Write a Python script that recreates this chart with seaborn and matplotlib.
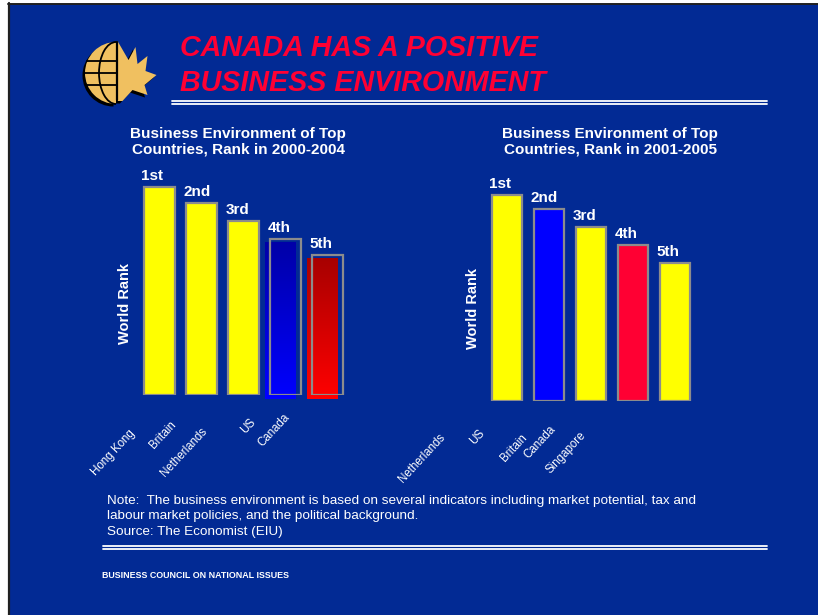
import numpy as np
import matplotlib
matplotlib.use("Agg")
import matplotlib.pyplot as plt
import matplotlib.transforms as mtransforms
from matplotlib.patches import Rectangle, Polygon, Wedge, Arc
from matplotlib.lines import Line2D
from matplotlib.colors import LinearSegmentedColormap
import seaborn as sns

# ---------------- data ----------------
main_title = "CANADA HAS A POSITIVE\nBUSINESS ENVIRONMENT"

left_title = "Business Environment of Top\nCountries, Rank in 2000-2004"
left_countries = ["Hong Kong", "Britain", "Netherlands", "US", "Canada"]
left_scores = [208, 192, 174, 156, 140]
left_ranks = ["1st", "2nd", "3rd", "4th", "5th"]
left_colors = ["#FFFF00", "#FFFF00", "#FFFF00", "#0000FF", "#FF0000"]
left_gradients = [None, None, None, ("#0000A8", "#0000FF"), ("#A80000", "#FF0000")]

right_title = "Business Environment of Top\nCountries, Rank in 2001-2005"
right_countries = ["Netherlands", "US", "Britain", "Canada", "Singapore"]
right_scores = [206, 192, 174, 156, 138]
right_ranks = ["1st", "2nd", "3rd", "4th", "5th"]
right_colors = ["#FFFF00", "#0000FF", "#FFFF00", "#FF0033", "#FFFF00"]

y_label = "World Rank"
note_text = ("Note:  The business environment is based on several indicators including market potential, tax and\n"
             "labour market policies, and the political background.\n"
             "Source: The Economist (EIU)")
footer_text = "BUSINESS COUNCIL ON NATIONAL ISSUES"

# ---------------- layout (pixels) ----------------
W, H = 818, 615
BG = "#022A94"
SANS = ["Liberation Sans", "DejaVu Sans"]

sns.set_theme(style="white")
plt.rcParams["font.family"] = SANS

fig = plt.figure(figsize=(W / 100, H / 100), dpi=100)
fig.patch.set_facecolor("white")
P = mtransforms.Affine2D().scale(1 / W, -1 / H).translate(0, 1) + fig.transFigure

# background slide
fig.patches.append(Rectangle((9, 4), W - 9, H - 4, transform=P, facecolor=BG,
                             edgecolor="none", zorder=-10))
fig.lines.append(Line2D([9, 9], [3, H], transform=P, color="#202020", lw=1.6, zorder=-9))
fig.lines.append(Line2D([8, W], [3.5, 3.5], transform=P, color="#202020", lw=1.4, zorder=-9))

# double rules
for y in (100.8, 104.2):
    fig.lines.append(Line2D([172, 767], [y, y], transform=P, color="white", lw=1.3))
for y in (545.8, 549.2):
    fig.lines.append(Line2D([103, 767], [y, y], transform=P, color="white", lw=1.3))

# ---------------- logo ----------------
GOLD = "#F0C060"
cx, cy, r = 116, 73, 31
leaf = [(116, 41), (127, 60), (134, 47), (136, 64), (146, 56), (144, 71), (155, 75),
        (143, 85), (146, 95), (131, 90), (121, 101), (116, 101)]
for dx, col, z in ((-2.5, "black", 1), (0, GOLD, 2)):
    sh = mtransforms.Affine2D().translate(dx, -dx) + P
    fig.patches.append(Wedge((cx, cy), r, 90, 270, transform=sh, facecolor=col,
                             edgecolor="none", zorder=z))
    fig.patches.append(Polygon([(x + 1.5, y) for x, y in leaf], closed=True,
                               transform=sh, facecolor=col, edgecolor="none", zorder=z))
for yy in (cy - 12, cy, cy + 12):
    half = np.sqrt(r ** 2 - (yy - cy) ** 2)
    fig.lines.append(Line2D([cx - half, cx], [yy, yy], transform=P, color="black",
                            lw=1.3, zorder=3))
fig.patches.append(Arc((cx, cy), 34, 2 * r, theta1=90, theta2=270, transform=P,
                       color="black", lw=1.3, zorder=3))
fig.lines.append(Line2D([cx + 0.5, cx + 0.5], [cy - r, cy + r - 4], transform=P,
                        color="black", lw=1.6, zorder=3))

# ---------------- titles & texts ----------------
fig.text(180, 65.5, main_title, transform=P, ha="left", va="center",
         color="#FF0033", fontsize=20.6, fontweight="bold", fontstyle="italic",
         linespacing=1.28)
fig.text(238, 141.5, left_title, transform=P, ha="center", va="center",
         color="white", fontsize=11, fontweight="bold", linespacing=1.12)
fig.text(610, 141.5, right_title, transform=P, ha="center", va="center",
         color="white", fontsize=11, fontweight="bold", linespacing=1.12)
fig.text(107, 516.5, note_text, transform=P, ha="left", va="center",
         color="white", fontsize=9.7, linespacing=1.42)
fig.text(102, 575, footer_text, transform=P, ha="left", va="center",
         color="white", fontsize=6.4, fontweight="bold")


def px_offset(dx, dy):
    return mtransforms.ScaledTranslation(dx / 100, -dy / 100, fig.dpi_scale_trans)


def draw_panel(rect, countries, scores, ranks, colors, gradients, label_nudges, ylab_pos):
    left, top, width, base = rect
    ax = fig.add_axes([left / W, 1 - base / H, width / W, (base - top) / H])
    ax.set_facecolor("none")
    sns.barplot(x=countries, y=scores, hue=countries, palette=colors, saturation=1,
                width=0.72, edgecolor="#8C8C8C", linewidth=1.6, legend=False, ax=ax,
                zorder=2)
    bars = sorted(ax.patches, key=lambda p: p.get_x())
    for p, rank, grad in zip(bars, ranks, gradients):
        if grad is not None:
            p.set_facecolor("none")
            cmap = LinearSegmentedColormap.from_list("g", list(grad))
            grid = np.linspace(0, 1, 64).reshape(-1, 1)
            ax.imshow(grid, cmap=cmap, aspect="auto", interpolation="bilinear",
                      extent=[p.get_x(), p.get_x() + p.get_width(), 0, p.get_height()],
                      transform=ax.transData + px_offset(-5, 4), zorder=1, clip_on=False)
        ax.annotate(rank, xy=(p.get_x(), p.get_height()), xytext=(-3, 7),
                    textcoords="offset pixels", ha="left", va="baseline",
                    color="white", fontsize=11, fontweight="bold")
    for i, (name, (ndx, ndy)) in enumerate(zip(countries, label_nudges)):
        ax.text(i, 0, name, transform=ax.get_xaxis_transform() + px_offset(ndx, ndy),
                rotation=47, rotation_mode="anchor", ha="right", va="center",
                color="white", fontsize=8.3)
    ax.text(ylab_pos[0], ylab_pos[1], y_label, transform=ax.transAxes, rotation=90,
            ha="center", va="center", color="white", fontsize=10.5, fontweight="bold")
    ax.set_xlim(-0.5, 4.5)
    ax.set_ylim(0, base - top)
    ax.set_xticks([])
    ax.set_yticks([])
    ax.set_xlabel("")
    ax.set_ylabel("")
    for s in ax.spines.values():
        s.set_visible(False)
    return ax


left_nudges = [(-26, 37), (-27, 28), (-38, 35), (-32, 25), (-40, 20)]
right_nudges = [(-64, 35), (-66, 30), (-66, 35), (-79, 26), (-91, 33)]

draw_panel((138.5, 165, 210, 395), left_countries, left_scores, left_ranks,
           left_colors, left_gradients, left_nudges, (-0.064, 0.40))
draw_panel((486, 171, 210, 401), right_countries, right_scores, right_ranks,
           right_colors, [None] * 5, right_nudges, (-0.062, 0.404))

fig.savefig("out.png", dpi=100, facecolor=fig.get_facecolor())
